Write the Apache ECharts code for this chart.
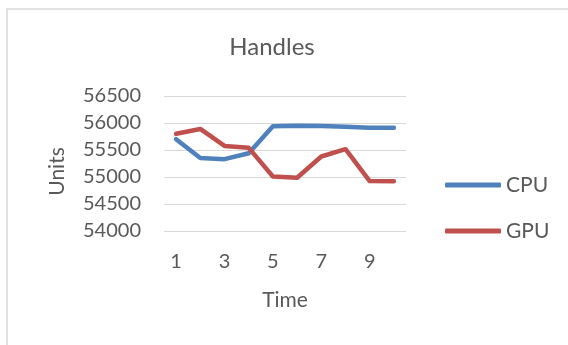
<!DOCTYPE html>
<html>
<head>
<meta charset="utf-8">
<script src="https://cdn.jsdelivr.net/npm/echarts@6/dist/echarts.min.js"></script>
<style>
  html, body { margin: 0; padding: 0; background: #ffffff; }
  #chart { width: 568px; height: 345px; }
</style>
</head>
<body>
<div id="chart"></div>
<script>
// Sample index along the time axis
const timeSteps = ['1', '2', '3', '4', '5', '6', '7', '8', '9', '10'];
// Handle counts per sample
const cpuHandles = [55700, 55350, 55330, 55440, 55940, 55950, 55945, 55930, 55910, 55910];
const gpuHandles = [55800, 55890, 55575, 55540, 55010, 54985, 55380, 55515, 54925, 54920];
// Value axis range
const unitsMin = 54000;
const unitsMax = 56500;
const unitsStep = 500;

const FONT = 'Lato';
const TEXT = '#595959';
const BLUE = '#4F81BD';
const RED = '#C0504D';

const chart = echarts.init(document.getElementById('chart'), null, { renderer: 'canvas' });

function legendFor(name, top) {
  return {
    data: [name],
    left: 445,
    top: top,
    padding: 0,
    orient: 'vertical',
    icon: 'roundRect',
    itemWidth: 56,
    itemHeight: 5,
    itemGap: 0,
    selectedMode: false,
    textStyle: { color: TEXT, fontFamily: FONT, fontSize: 21, lineHeight: 22 }
  };
}

chart.setOption({
  animation: false,
  backgroundColor: '#ffffff',
  title: {
    text: 'Handles',
    left: 267,
    top: 30,
    textAlign: 'center',
    textStyle: { color: TEXT, fontFamily: FONT, fontSize: 24, fontWeight: 'normal' }
  },
  legend: [legendFor('CPU', 174), legendFor('GPU', 220)],
  graphic: [{
    type: 'rect',
    shape: { x: 7, y: 9, width: 700, height: 500 },
    style: { fill: 'none', stroke: '#d9d9d9', lineWidth: 1.5 },
    silent: true
  }],
  grid: { left: 164, right: 162, top: 96, bottom: 114 },
  xAxis: {
    type: 'category',
    data: timeSteps,
    boundaryGap: true,
    name: 'Time',
    nameLocation: 'middle',
    nameGap: 59,
    nameTextStyle: { color: TEXT, fontFamily: FONT, fontSize: 21 },
    axisLine: { show: false },
    axisTick: { show: false },
    axisLabel: { interval: 1, margin: 21, color: TEXT, fontFamily: FONT, fontSize: 20 }
  },
  yAxis: {
    type: 'value',
    min: unitsMin,
    max: unitsMax,
    interval: unitsStep,
    name: 'Units',
    nameLocation: 'middle',
    nameGap: 96,
    nameTextStyle: { color: TEXT, fontFamily: FONT, fontSize: 21, padding: [0, 16, 0, 0] },
    axisLine: { show: false },
    axisTick: { show: false },
    axisLabel: {
      margin: 23, color: TEXT, fontFamily: FONT, fontSize: 20,
      formatter: (v) => String(v)
    },
    splitLine: { lineStyle: { color: '#d9d9d9', width: 1 } }
  },
  series: [
    {
      name: 'CPU',
      type: 'line',
      data: cpuHandles,
      showSymbol: false,
      color: BLUE,
      lineStyle: { width: 4.5, color: BLUE, cap: 'round', join: 'round' }
    },
    {
      name: 'GPU',
      type: 'line',
      data: gpuHandles,
      showSymbol: false,
      color: RED,
      lineStyle: { width: 4.5, color: RED, cap: 'round', join: 'round' }
    }
  ]
});
</script>
</body>
</html>
